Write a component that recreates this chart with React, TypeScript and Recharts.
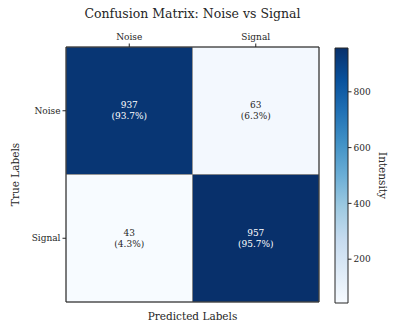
import { ScatterChart, Scatter, ComposedChart, XAxis, YAxis, ReferenceArea } from 'recharts'

document.body.style.margin = '0'

const categories = ['Noise', 'Signal']
const counts = [
  [937, 63],
  [43, 957],
]
const cbTicks = [200, 400, 600, 800]

const font = '"DejaVu Serif", serif'
const ink = '#262626'

// matplotlib "Blues"
const bluesStops = ['#f7fbff', '#deebf7', '#c6dbef', '#9ecae1', '#6baed6', '#4292c6', '#2171b5', '#08519c', '#08306b']
const vmin = Math.min(...counts.flat())
const vmax = Math.max(...counts.flat())

const hex = (h: string) => [1, 3, 5].map(i => parseInt(h.slice(i, i + 2), 16))
const blues = (v: number) => {
  const t = Math.max(0, Math.min(1, (v - vmin) / (vmax - vmin))) * (bluesStops.length - 1)
  const i = Math.min(Math.floor(t), bluesStops.length - 2)
  const f = t - i
  const a = hex(bluesStops[i]), b = hex(bluesStops[i + 1])
  const c = a.map((x, k) => Math.round(x + (b[k] - x) * f))
  return `rgb(${c[0]},${c[1]},${c[2]})`
}

const cells = counts.flatMap((row, i) => {
  const total = row.reduce((s, v) => s + v, 0)
  return row.map((v, j) => ({ x: j + 0.5, y: i + 0.5, row: i, col: j, v, pct: (v / total) * 100 }))
})
const catTick = (i: number) => categories[Math.floor(i)]
const centers = categories.map((_, i) => i + 0.5)
// colorbar range, so the bar's axis has something to scale
const cbData = [{ x: 0, v: vmin }, { x: 1, v: vmax }]

const CellText = (props: any) => {
  const { cx, cy, payload } = props
  const fill = payload.v > (vmin + vmax) / 2 ? '#ffffff' : ink
  return (
    <g fontFamily={font} fontSize={9} fill={fill} textAnchor="middle">
      <text x={cx} y={cy - 5.5} dominantBaseline="central">{payload.v}</text>
      <text x={cx} y={cy + 5.5} dominantBaseline="central">({payload.pct.toFixed(1)}%)</text>
    </g>
  )
}

const tickStyle = { fontSize: 9, fill: ink, fontFamily: font }

export default function App() {
  return (
    <div style={{ position: 'relative', width: 397, height: 331, background: '#fff' }}>
      <div style={{ position: 'absolute', left: 66, width: 253, top: 6, textAlign: 'center', fontFamily: font, fontSize: 12.5, color: ink, whiteSpace: 'nowrap' }}>
        Confusion Matrix: Noise vs Signal
      </div>
      <div style={{ position: 'absolute', left: 0, top: 0 }}>
        <ScatterChart width={397} height={331} margin={{ top: 27, right: 78, bottom: 5, left: 26 }}>
          <XAxis xAxisId="top" orientation="top" type="number" dataKey="x" domain={[0, 2]} ticks={centers}
            tickFormatter={catTick} height={20} tickSize={3.5} tickMargin={4} axisLine={false}
            tickLine={{ stroke: ink }} tick={tickStyle} />
          <XAxis xAxisId="bottom" orientation="bottom" type="number" dataKey="x" domain={[0, 2]} ticks={centers}
            height={24} tickSize={3.5} axisLine={false} tickLine={{ stroke: ink }} tick={false}
            label={{ value: 'Predicted Labels', position: 'insideBottom', offset: 6, fontSize: 10.5, fill: ink, fontFamily: font }} />
          <YAxis yAxisId="left" type="number" dataKey="y" domain={[0, 2]} reversed ticks={centers}
            tickFormatter={catTick} width={40} tickSize={3.5} tickMargin={2} axisLine={false}
            tickLine={{ stroke: ink }} tick={tickStyle}
            label={{ value: 'True Labels', angle: -90, position: 'insideLeft', offset: -11, fontSize: 10.5, fill: ink, fontFamily: font, style: { textAnchor: 'middle' } }} />
          {cells.map(c => (
            <ReferenceArea key={`${c.row}-${c.col}`} xAxisId="top" yAxisId="left"
              x1={c.col} x2={c.col + 1} y1={c.row} y2={c.row + 1}
              fill={blues(c.v)} fillOpacity={1} stroke="#8a8a8a" strokeWidth={0.8} />
          ))}
          <ReferenceArea xAxisId="top" yAxisId="left" x1={0} x2={2} y1={0} y2={2}
            fill="none" stroke={ink} strokeWidth={1} />
          <Scatter xAxisId="top" yAxisId="left" data={cells} shape={<CellText />} isAnimationActive={false} />
        </ScatterChart>
      </div>
      <div style={{ position: 'absolute', left: 0, top: 0 }}>
        <ComposedChart width={397} height={331} data={cbData} margin={{ top: 48, right: 19, bottom: 28, left: 335 }}>
          <defs>
            <linearGradient id="bluesGrad" x1="0" y1="1" x2="0" y2="0">
              {bluesStops.map((c, i) => (
                <stop key={i} offset={`${(i / (bluesStops.length - 1)) * 100}%`} stopColor={c} />
              ))}
            </linearGradient>
          </defs>
          <XAxis type="number" dataKey="x" domain={[0, 1]} hide />
          <YAxis orientation="right" type="number" dataKey="v" domain={[vmin, vmax]} ticks={cbTicks} width={30}
            axisLine={false} tickSize={3.5} tickMargin={2} tickLine={{ stroke: ink }} tick={tickStyle}
            label={{ value: 'Intensity', angle: 90, position: 'right', offset: 5, fontSize: 10.5, fill: ink, fontFamily: font, style: { textAnchor: 'middle' } }} />
          <ReferenceArea x1={0} x2={1} y1={vmin} y2={vmax} fill="url(#bluesGrad)" fillOpacity={1} stroke={ink} strokeWidth={1} />
          <Scatter dataKey="v" shape={() => <g />} isAnimationActive={false} />
        </ComposedChart>
      </div>
    </div>
  )
}
